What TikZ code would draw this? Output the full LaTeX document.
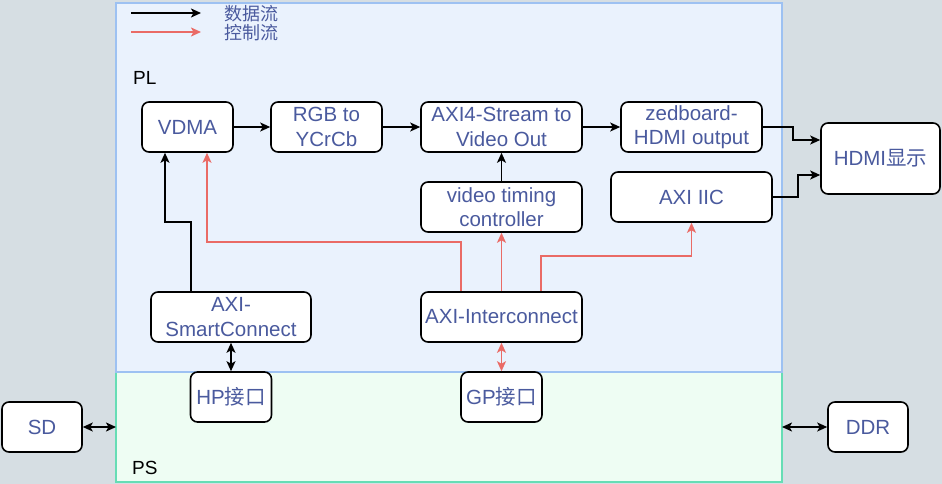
\documentclass[tikz,border=0pt]{standalone}
\usepackage{fontspec}
\setmainfont{Liberation Sans}
\newfontfamily\cjk{Noto Sans CJK SC}
\usetikzlibrary{arrows.meta,calc}
\definecolor{bggray}{HTML}{D6DEE3}
\definecolor{plfill}{HTML}{EAF2FD}
\definecolor{pldraw}{HTML}{9DC1F2}
\definecolor{psfill}{HTML}{EEFDF3}
\definecolor{psdraw}{HTML}{66DDB5}
\definecolor{tblue}{HTML}{4A5A9E}
\definecolor{ctrlred}{HTML}{EA6B66}
\begin{document}
\begin{tikzpicture}[x=1pt,y=-1pt,
  box/.style={draw=black, fill=white, rounded corners=7pt, line width=1.6pt,
    text=tblue, align=center, inner sep=0pt,
    font=\fontsize{20.5}{24.5}\selectfont},
  >={Stealth[length=10pt,width=9pt,inset=2.5pt]},
  data/.style={->, line width=1.7pt, black},
  ctrl/.style={->, line width=1.7pt, ctrlred},
  bidata/.style={<->, line width=1.7pt, black},
  bictrl/.style={<->, line width=1.7pt, ctrlred},
  legtext/.style={anchor=west, text=tblue, inner sep=0pt, font=\cjk\fontsize{18}{19}\selectfont},
  regtext/.style={anchor=west, text=black, inner sep=0pt, font=\fontsize{19}{21}\selectfont}]
\fill[bggray] (0,0) rectangle (942,484);
\useasboundingbox (0,0) rectangle (942,484);
% regions
\draw[fill=psfill, draw=psdraw, line width=1.6pt] (116,372) rectangle (782,482);
\draw[fill=plfill, draw=pldraw, line width=1.6pt] (116,3) rectangle (782,372);
% legend
\coordinate (l1a) at (131,13); \coordinate (l1b) at (201,13);
\coordinate (l2a) at (131,32); \coordinate (l2b) at (201,32);
\draw[data] (l1a) -- (l1b);
\draw[ctrl] (l2a) -- (l2b);
\node[legtext] (lg1) at (224,14) {数据流};
\node[legtext] (lg2) at (224,33) {控制流};
% region labels
\node[regtext] (pl) at (133,78) {PL};
\node[regtext] (ps) at (132,468) {PS};
% boxes
\node[box, minimum width=91pt, minimum height=50pt] (vdma) at (187.5,127) {VDMA};
\node[box, minimum width=111pt, minimum height=50pt] (rgb) at (326.5,127) {RGB to\\YCrCb};
\node[box, minimum width=161pt, minimum height=50pt] (axi4) at (501.5,127) {AXI4-Stream to\\Video Out};
\node[box, minimum width=141pt, minimum height=50pt] (zed) at (691.5,127) {zedboard-\\HDMI output};
\node[box, minimum width=119pt, minimum height=71pt] (hdmi) at (880.5,158.5) {HDMI{\cjk 显示}};
\node[box, minimum width=161pt, minimum height=50pt] (vtc) at (501.5,207) {video timing\\controller};
\node[box, minimum width=161pt, minimum height=50pt] (iic) at (691.5,197) {AXI IIC};
\node[box, minimum width=160pt, minimum height=50pt] (smart) at (231,317) {AXI-\\SmartConnect};
\node[box, minimum width=161pt, minimum height=50pt] (inter) at (501.5,317) {AXI-Interconnect};
\node[box, minimum width=81pt, minimum height=50pt] (hp) at (231,397) {HP{\cjk 接口}};
\node[box, minimum width=81pt, minimum height=50pt] (gp) at (501.5,397) {GP{\cjk 接口}};
\node[box, minimum width=80pt, minimum height=50pt] (sd) at (42,427) {SD};
\node[box, minimum width=80pt, minimum height=50pt] (ddr) at (868,427) {DDR};
\coordinate (psL) at (116,427);
\coordinate (psR) at (782,427);
% data flow
\draw[data] (vdma) -- (rgb);
\draw[data] (rgb) -- (axi4);
\draw[data] (axi4) -- (zed);
\draw[data] (zed.east) -- ++(30,0) |- ($(hdmi.west)+(0,-18.5)$);
\draw[data] (iic.east) -- ++(25,0) |- ($(hdmi.west)+(0,16.5)$);
\draw[data] (vtc) -- (axi4);
\draw[data] ($(smart.north)+(-40,0)$) -- ++(0,-69) -| ($(vdma.south)+(-22.5,0)$);
\draw[bidata] (hp.north) -- (smart.south);
\draw[bidata] (sd.east) -- (psL);
\draw[bidata] (psR) -- (ddr.west);
% control flow
\draw[ctrl] ($(inter.north)+(-40.5,0)$) -- ++(0,-49) -| ($(vdma.south)+(19.5,0)$);
\draw[ctrl] (inter) -- (vtc);
\draw[ctrl] ($(inter.north)+(39.5,0)$) -- ++(0,-35) -| (iic.south);
\draw[bictrl] (gp.north) -- (inter.south);
\end{tikzpicture}
\end{document}
